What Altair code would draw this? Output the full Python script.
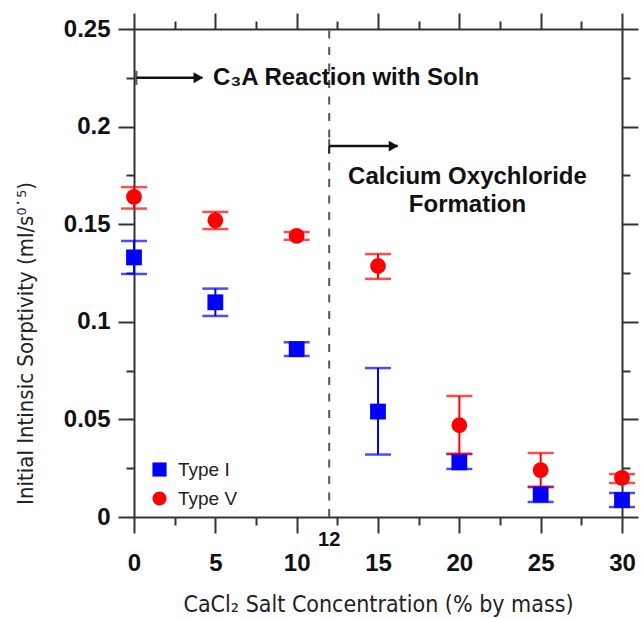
import altair as alt
import pandas as pd

# ---------------- data ----------------
series_names = ["Type I", "Type V"]
series_colors = ["#0000ff", "#ff0000"]
series_shapes = ["square", "circle"]
conc = [0, 5, 10, 15, 20, 25, 30]
type1_mean = [0.133, 0.110, 0.086, 0.054, 0.028, 0.0115, 0.0087]
type1_low = [0.1245, 0.103, 0.0825, 0.032, 0.0246, 0.0077, 0.0051]
type1_high = [0.1414, 0.117, 0.0895, 0.0763, 0.0323, 0.0154, 0.0123]
type5_mean = [0.164, 0.152, 0.144, 0.1286, 0.047, 0.024, 0.020]
type5_low = [0.158, 0.1475, 0.142, 0.122, 0.0323, 0.0154, 0.0174]
type5_high = [0.169, 0.1563, 0.146, 0.1347, 0.062, 0.0328, 0.022]

x_major = [0, 5, 10, 15, 20, 25, 30]
x_minor = [2.5, 7.5, 12.5, 17.5, 22.5, 27.5]
y_major = [0, 0.05, 0.1, 0.15, 0.2, 0.25]
y_minor = [0.025, 0.075, 0.125, 0.175, 0.225]

vline_x = [12]
arrow_start = [0.15, 12]
arrow_tip = [4.2, 16.2]
arrow_y = [0.225, 0.19]
note1_text = ["C₃A Reaction with Soln"]
note1_x = [4.85]
note1_y = [0.225]
note2_text = ["Calcium Oxychloride", "Formation"]
note2_x = [20.5, 20.5]
note2_y = [0.174, 0.160]
mark12_text = ["12"]
mark12_x = [12]
mark12_y = [-0.0118]

rows = []
for name, m, lo, hi in [
    (series_names[0], type1_mean, type1_low, type1_high),
    (series_names[1], type5_mean, type5_low, type5_high),
]:
    for c, a, b, d in zip(conc, m, lo, hi):
        rows.append({"conc": c, "series": name, "mean": a, "low": b, "high": d})
df = pd.DataFrame(rows)

arrows = pd.DataFrame({"x0": arrow_start, "x1": arrow_tip, "y": arrow_y})
vline = pd.DataFrame({"x": vline_x, "y0": [0.0], "y1": [0.25]})
note1 = pd.DataFrame({"t": note1_text, "x": note1_x, "y": note1_y})
note2 = pd.DataFrame({"t": note2_text, "x": note2_x, "y": note2_y})
mark12 = pd.DataFrame({"t": mark12_text, "x": mark12_x, "y": mark12_y})

# ---------------- styles ----------------
AX = "#333333"
LBL_FONT = "Liberation Sans, Arial, sans-serif"
TTL_FONT = "Liberation Sans Narrow, DejaVu Sans Condensed, sans-serif"

xs = alt.Scale(domain=[0, 30], nice=False, zero=False)
ys = alt.Scale(domain=[0, 0.25], nice=False, zero=False)
cscale = alt.Scale(domain=series_names, range=series_colors)
sscale = alt.Scale(domain=series_names, range=series_shapes)


def ax(orient, values, size, domain, **kw):
    return alt.Axis(orient=orient, values=values, tickSize=size, tickWidth=2,
                    tickColor=AX, domain=domain, domainColor=AX, domainWidth=2,
                    grid=False, ticks=True, **kw)


bottom_major = ax("bottom", x_major, 16, True, labels=True, labelFont=LBL_FONT,
                  labelFontSize=24, labelFontWeight="bold", labelColor="#111111",
                  labelPadding=18, labelFlush=False, labelOverlap=False,
                  title="CaCl₂ Salt Concentration (% by mass)", titleFont=TTL_FONT,
                  titleFontSize=23, titleFontWeight="normal", titleColor="#222222",
                  titleY=94, titleBaseline="alphabetic", titleAlign="center")
left_major = ax("left", y_major, 16, True, labels=True, labelFont=LBL_FONT,
                labelFontSize=24, labelFontWeight="bold", labelColor="#111111",
                labelPadding=8, format="~g", labelOverlap=False,
                title="Initial Intinsic Sorptivity (ml/s⁰˙⁵)", titleFont=TTL_FONT,
                titleFontSize=22, titleFontWeight="normal", titleColor="#222222",
                titleX=-102, titleY=314, titleAngle=270, titleAlign="center",
                titleBaseline="alphabetic")
bottom_minor = ax("bottom", x_minor, 8, False, labels=False, title=None)
left_minor = ax("left", y_minor, 8, False, labels=False, title=None)
top_major = ax("top", x_major, 16, True, labels=False, title=None)
right_major = ax("right", y_major, 16, True, labels=False, title=None)
top_minor = ax("top", x_minor, 8, False, labels=False, title=None)
right_minor = ax("right", y_minor, 8, False, labels=False, title=None)

LEG = alt.Legend(orient="none", legendX=16, legendY=431, title=None, labelFont=LBL_FONT,
                 labelFontSize=19, labelColor="#222222", symbolSize=200, labelOffset=9,
                 rowPadding=9, padding=0, symbolStrokeWidth=0)

base = alt.Chart(df)

layers = []
for i, name in enumerate(series_names):
    sub = base.transform_filter(alt.datum.series == name)
    rule = sub.mark_rule(strokeWidth=2, color=series_colors[i]).encode(
        x=alt.X("conc:Q", scale=xs, axis=bottom_major if i == 0 else None),
        y=alt.Y("low:Q", scale=ys, axis=left_major if i == 0 else None),
        y2="high:Q",
    )
    caps = sub.transform_fold(["low", "high"], as_=["end", "val"]).mark_tick(
        orient="horizontal", size=26, thickness=2.5, color=series_colors[i]).encode(
        x=alt.X("conc:Q", scale=xs, axis=bottom_minor if i == 0 else None),
        y=alt.Y("val:Q", scale=ys, axis=left_minor if i == 0 else None),
    )
    layers += [rule, caps]

points = base.mark_point(filled=True, opacity=1, size=250, strokeWidth=0).encode(
    x=alt.X("conc:Q", scale=xs, axis=top_major),
    y=alt.Y("mean:Q", scale=ys, axis=right_major),
    color=alt.Color("series:N", scale=cscale, legend=LEG),
    shape=alt.Shape("series:N", scale=sscale, legend=LEG),
)
dashed = alt.Chart(vline).mark_rule(strokeWidth=2, color="#555555", strokeDash=[8, 8.5]).encode(
    x=alt.X("x:Q", scale=xs, axis=top_minor),
    y=alt.Y("y0:Q", scale=ys, axis=right_minor),
    y2="y1:Q",
)
shafts = alt.Chart(arrows).mark_rule(strokeWidth=2.5, color="#111111").encode(
    x=alt.X("x0:Q", scale=xs, axis=None),
    x2="x1:Q",
    y=alt.Y("y:Q", scale=ys, axis=None),
)
heads = alt.Chart(arrows).mark_point(shape="triangle-right", filled=True, size=120,
                                     color="#111111", opacity=1, xOffset=-4).encode(
    x=alt.X("x1:Q", scale=xs, axis=None),
    y=alt.Y("y:Q", scale=ys, axis=None),
)
starts = alt.Chart(arrows).mark_tick(orient="vertical", size=14, thickness=2, color="#111111").encode(
    x=alt.X("x0:Q", scale=xs, axis=None),
    y=alt.Y("y:Q", scale=ys, axis=None),
)
text1 = alt.Chart(note1).mark_text(align="left", baseline="middle", font=LBL_FONT,
                                   fontSize=24, fontWeight="bold", color="#111111").encode(
    x=alt.X("x:Q", scale=xs, axis=None), y=alt.Y("y:Q", scale=ys, axis=None), text="t:N")
text2 = alt.Chart(note2).mark_text(align="center", baseline="middle", font=LBL_FONT,
                                   fontSize=24, fontWeight="bold", color="#111111").encode(
    x=alt.X("x:Q", scale=xs, axis=None), y=alt.Y("y:Q", scale=ys, axis=None), text="t:N")
text12 = alt.Chart(mark12).mark_text(align="center", baseline="middle", font=LBL_FONT,
                                     fontSize=20, fontWeight="bold", color="#111111").encode(
    x=alt.X("x:Q", scale=xs, axis=None), y=alt.Y("y:Q", scale=ys, axis=None), text="t:N")

chart = alt.layer(
    *layers, points, dashed, shafts, heads, starts, text1, text2, text12
).resolve_axis(x="independent", y="independent").properties(
    width=488, height=488,
    autosize=alt.AutoSizeParams(type="none"),
    padding={"left": 134, "top": 29, "right": 19, "bottom": 101},
).configure_view(stroke=None).configure(background="white")

chart.save("out.html", embed_options={"renderer": "svg", "actions": False})
